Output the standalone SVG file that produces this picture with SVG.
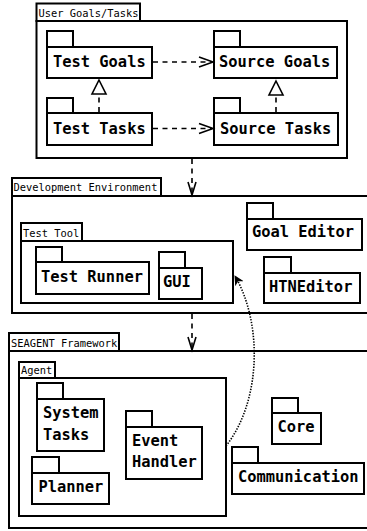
<svg xmlns="http://www.w3.org/2000/svg" width="367" height="531" viewBox="0 0 367 531">
<defs>
<style>
.box{fill:#fff;stroke:#000;stroke-width:2}
.lbl{font-family:"DejaVu Sans Mono","Liberation Mono",monospace;font-size:10.4px;fill:#000}
.pk{font-family:"DejaVu Sans Mono","Liberation Mono",monospace;font-size:15.4px;font-weight:bold;fill:#000}
.dash{fill:none;stroke:#000;stroke-width:1.6;stroke-dasharray:5,4.5}
.open{fill:none;stroke:#000;stroke-width:1.6}
.tri{fill:#fff;stroke:#000;stroke-width:1.6}
.dot{fill:none;stroke:#000;stroke-width:1.6;stroke-dasharray:1.4,1.4}
</style>
<marker id="fill" viewBox="0 0 10 10" refX="9" refY="5" markerWidth="10" markerHeight="10" markerUnits="userSpaceOnUse" orient="auto">
<path d="M0,0 L10,5 L0,10 L3,5 Z" fill="#000"/>
</marker>
</defs>
<rect width="367" height="531" fill="#fff"/>

<g id="user-goals-tasks">
<rect class="box" x="36.5" y="3.5" width="103.5" height="17.5"/>
<rect class="box" x="36.5" y="21" width="310.5" height="137"/>
<text class="lbl" x="38.5" y="17">User Goals/Tasks</text>
</g>
<g id="test-goals">
<rect class="box" x="47" y="31" width="26" height="16"/>
<rect class="box" x="47" y="47" width="105" height="31"/>
<text class="pk" x="53" y="66.5">Test Goals</text>
</g>
<g id="source-goals">
<rect class="box" x="214" y="31" width="26" height="16"/>
<rect class="box" x="214" y="47" width="123" height="31"/>
<text class="pk" x="219" y="66.5">Source Goals</text>
</g>
<g id="test-tasks">
<rect class="box" x="47" y="98" width="26" height="15"/>
<rect class="box" x="47" y="113" width="105" height="32"/>
<text class="pk" x="53" y="133.5">Test Tasks</text>
</g>
<g id="source-tasks">
<rect class="box" x="214" y="98" width="26" height="15"/>
<rect class="box" x="214" y="113" width="124" height="32"/>
<text class="pk" x="220" y="133.5">Source Tasks</text>
</g>

<g id="development-environment">
<rect class="box" x="12" y="178" width="149" height="18"/>
<rect class="box" x="12" y="196" width="362" height="117"/>
<text class="lbl" x="13.5" y="191">Development Environment</text>
</g>
<g id="test-tool">
<rect class="box" x="21" y="223" width="61" height="18"/>
<rect class="box" x="21" y="241" width="212" height="62"/>
<text class="lbl" x="23" y="237">Test Tool</text>
</g>
<g id="test-runner">
<rect class="box" x="36" y="247" width="26" height="15"/>
<rect class="box" x="36" y="262" width="113" height="32"/>
<text class="pk" x="41" y="281.5">Test Runner</text>
</g>
<g id="gui">
<rect class="box" x="159" y="252" width="26" height="16"/>
<rect class="box" x="159" y="268" width="43" height="31"/>
<text class="pk" x="163" y="287">GUI</text>
</g>
<g id="goal-editor">
<rect class="box" x="247" y="203" width="26" height="16"/>
<rect class="box" x="247" y="219" width="115" height="31"/>
<text class="pk" x="252" y="237">Goal Editor</text>
</g>
<g id="htneditor">
<rect class="box" x="264" y="257" width="27" height="16"/>
<rect class="box" x="264" y="273" width="96" height="30"/>
<text class="pk" x="269" y="292">HTNEditor</text>
</g>

<g id="seagent-framework">
<rect class="box" x="9" y="333" width="110" height="18"/>
<rect class="box" x="9" y="351" width="365" height="177"/>
<text class="lbl" x="11" y="347">SEAGENT Framework</text>
</g>
<g id="agent">
<rect class="box" x="19" y="362" width="36" height="16"/>
<rect class="box" x="19" y="378" width="207" height="138"/>
<text class="lbl" x="21" y="373.5">Agent</text>
</g>
<g id="system-tasks">
<rect class="box" x="37" y="383" width="26" height="16"/>
<rect class="box" x="37" y="399" width="67" height="52"/>
<text class="pk" x="43" y="417.5">System</text>
<text class="pk" x="43" y="439.5">Tasks</text>
</g>
<g id="planner">
<rect class="box" x="32" y="457" width="27" height="16"/>
<rect class="box" x="32" y="473" width="77" height="31"/>
<text class="pk" x="38.5" y="492">Planner</text>
</g>
<g id="event-handler">
<rect class="box" x="126" y="411" width="26" height="16"/>
<rect class="box" x="126" y="427" width="76" height="52"/>
<text class="pk" x="132" y="445.5">Event</text>
<text class="pk" x="132" y="467">Handler</text>
</g>
<g id="core">
<rect class="box" x="272" y="398" width="26" height="15"/>
<rect class="box" x="272" y="413" width="49" height="31"/>
<text class="pk" x="277.5" y="432">Core</text>
</g>
<g id="communication">
<rect class="box" x="232" y="447" width="26" height="16"/>
<rect class="box" x="232" y="463" width="132" height="31"/>
<text class="pk" x="238" y="482">Communication</text>
</g>

<g id="connectors">
<line class="dash" x1="153" y1="62" x2="212" y2="62"/>
<polyline class="open" points="199,57 213,62 199,67"/>
<line class="dash" x1="153" y1="128.5" x2="212" y2="128.5"/>
<polyline class="open" points="199,123.5 213,128.5 199,133.5"/>
<line class="dash" x1="99" y1="112" x2="99" y2="94"/>
<polygon class="tri" points="99,80 106,94 92,94"/>
<line class="dash" x1="276" y1="112" x2="276" y2="95"/>
<polygon class="tri" points="276,81 283,95 269,95"/>
<line class="dash" x1="192" y1="159" x2="192" y2="194"/>
<polyline class="open" points="188,182 192,195 196,182"/>
<line class="dash" x1="192" y1="314" x2="192" y2="349"/>
<polyline class="open" points="188,337 192,350 196,337"/>
<path class="dot" d="M226,446 C262,400 262,322 235,276" marker-end="url(#fill)"/>
</g>
</svg>
